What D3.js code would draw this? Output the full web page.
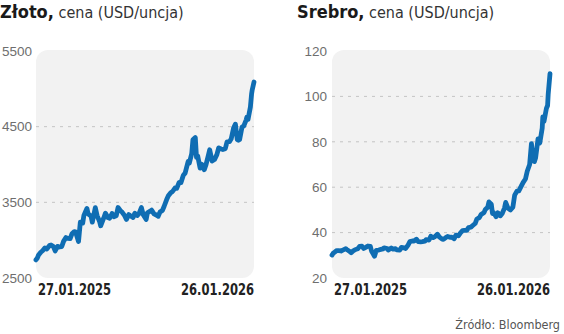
<!DOCTYPE html>
<html>
<head>
<meta charset="utf-8">
<script src="https://cdn.jsdelivr.net/npm/d3@7"></script>
<style>
  html, body { margin: 0; padding: 0; background: #fff; }
  svg { display: block; font-family: "DejaVu Sans Condensed", "DejaVu Sans", sans-serif; font-stretch: condensed; }
</style>
</head>
<body>
<svg id="chart" width="564" height="334"></svg>
<script>
// Gold, USD per ounce
const goldDates = ["2025-01-27","2025-01-29","2025-01-31","2025-02-04","2025-02-07","2025-02-11","2025-02-14","2025-02-19","2025-02-21","2025-02-25","2025-02-28","2025-03-04","2025-03-07","2025-03-11","2025-03-14","2025-03-18","2025-03-21","2025-03-25","2025-03-28","2025-04-01","2025-04-03","2025-04-08","2025-04-11","2025-04-15","2025-04-17","2025-04-22","2025-04-24","2025-04-29","2025-05-01","2025-05-06","2025-05-09","2025-05-13","2025-05-15","2025-05-20","2025-05-23","2025-05-27","2025-05-30","2025-06-03","2025-06-06","2025-06-10","2025-06-13","2025-06-17","2025-06-20","2025-06-24","2025-06-27","2025-07-01","2025-07-03","2025-07-08","2025-07-11","2025-07-15","2025-07-18","2025-07-22","2025-07-25","2025-07-30","2025-08-01","2025-08-05","2025-08-08","2025-08-12","2025-08-15","2025-08-19","2025-08-22","2025-08-26","2025-08-29","2025-09-02","2025-09-05","2025-09-09","2025-09-12","2025-09-16","2025-09-19","2025-09-23","2025-09-26","2025-09-30","2025-10-03","2025-10-08","2025-10-10","2025-10-14","2025-10-16","2025-10-20","2025-10-22","2025-10-24","2025-10-28","2025-10-31","2025-11-04","2025-11-07","2025-11-11","2025-11-13","2025-11-17","2025-11-21","2025-11-25","2025-11-28","2025-12-02","2025-12-05","2025-12-09","2025-12-12","2025-12-16","2025-12-19","2025-12-23","2025-12-26","2025-12-29","2025-12-31","2026-01-02","2026-01-06","2026-01-09","2026-01-13","2026-01-14","2026-01-16","2026-01-20","2026-01-22","2026-01-23","2026-01-26"];
const goldValues = [2740,2760,2800,2840,2860,2898,2882,2933,2936,2915,2858,2918,2910,2916,2984,3035,3023,3020,3084,3113,3110,2982,3237,3225,3327,3420,3349,3317,3238,3430,3325,3250,3190,3290,3357,3300,3290,3353,3310,3322,3432,3390,3368,3323,3274,3338,3326,3300,3355,3325,3350,3431,3337,3275,3362,3380,3397,3348,3336,3315,3371,3393,3448,3533,3586,3627,3643,3689,3685,3763,3760,3858,3886,4040,4018,4143,4326,4356,4095,4112,3952,4002,3932,4001,4128,4195,4045,4065,4130,4220,4205,4198,4208,4300,4302,4340,4485,4533,4331,4320,4330,4495,4510,4590,4625,4595,4760,4935,4985,5090];

// Silver, USD per ounce (same trading days)
const silverDates = goldDates;
const silverValues = [30.1,30.9,31.3,32.1,32.1,31.9,32.3,32.9,32.5,31.8,31.1,32.1,32.5,32.9,33.9,34.0,33.0,33.6,34.1,33.9,31.9,29.6,32.2,32.3,32.5,32.8,33.3,33.0,32.3,33.2,32.7,32.9,32.4,32.3,33.5,33.3,33.0,34.5,36.0,36.3,36.3,37.1,36.0,35.9,36.0,36.2,36.9,36.7,38.4,37.8,38.2,39.3,38.1,37.1,37.0,37.8,38.3,37.9,38.0,37.3,38.9,38.6,39.7,40.9,41.0,41.0,42.2,42.4,43.1,44.0,46.0,46.6,48.0,48.9,50.2,51.2,53.5,52.5,48.4,48.7,47.0,48.7,47.4,48.3,50.8,53.3,50.7,50.0,51.2,56.5,58.3,58.4,60.5,62.0,63.6,67.0,70.0,79.2,71.5,71.3,73.0,81.3,79.5,86.0,91.0,89.0,94.7,96.0,101.0,110.0];

const goldTicks = [2500, 3500, 4500, 5500];
const silverTicks = [20, 40, 60, 80, 100, 120];
const xLabels = ["27.01.2025", "26.01.2026"];

const parse = d3.timeParse("%Y-%m-%d");
const svg = d3.select("#chart");
const lineColor = "#0f6db3";

function panel(opts) {
  const g = svg.append("g");
  const data = opts.dates.map((d, i) => ({ date: parse(d), value: opts.values[i] }));

  const x = d3.scaleTime()
    .domain([parse("2025-01-27"), parse("2026-01-26")])
    .range([opts.x0, opts.x1]);
  const y = d3.scaleLinear()
    .domain(opts.domain)
    .range([278, 51]);

  // title
  const title = g.append("text")
    .attr("x", opts.titleX).attr("y", 18)
    .attr("fill", "#1a1a1a");
  title.append("tspan").attr("font-weight", "bold").attr("font-size", 18).text(opts.title);
  title.append("tspan").attr("font-size", 16).attr("fill", "#333").text(" cena (USD/uncja)");

  // plot background
  g.append("rect")
    .attr("x", opts.x0).attr("y", y(opts.domain[1]) - 1)
    .attr("width", opts.x1 - opts.x0)
    .attr("height", y(opts.domain[0]) - y(opts.domain[1]) + 1)
    .attr("rx", 12)
    .attr("fill", "#f2f2f2");

  // dashed gridlines on the inner ticks
  const inner = opts.ticks.slice(1, -1);
  g.selectAll(".grid").data(inner).enter().append("line")
    .attr("x1", opts.x0).attr("x2", opts.x1)
    .attr("y1", d => y(d)).attr("y2", d => y(d))
    .attr("stroke", "#c4c4c4")
    .attr("stroke-width", 1)
    .attr("stroke-dasharray", "3,5");

  // y axis labels
  const yAxis = d3.axisLeft(y).tickValues(opts.ticks).tickFormat(d3.format("d"))
    .tickSize(0).tickPadding(0);
  const ya = g.append("g").attr("transform", `translate(${opts.labelX},0)`).call(yAxis);
  ya.select(".domain").remove();
  ya.selectAll("text")
    .attr("font-family", null)
    .attr("font-size", 13.5)
    .attr("fill", "#6e6e6e");

  // x axis labels: first and last date
  g.append("text")
    .attr("x", opts.x0 + 2).attr("y", 295)
    .attr("font-weight", "bold").attr("font-size", 15).attr("fill", "#222")
    .attr("textLength", 73).attr("lengthAdjust", "spacingAndGlyphs")
    .text(xLabels[0]);
  g.append("text")
    .attr("x", opts.x1).attr("y", 295)
    .attr("text-anchor", "end")
    .attr("font-weight", "bold").attr("font-size", 15).attr("fill", "#222")
    .attr("textLength", 73).attr("lengthAdjust", "spacingAndGlyphs")
    .text(xLabels[1]);

  // price line
  const line = d3.line().x(d => x(d.date)).y(d => y(d.value));
  g.append("path")
    .datum(data)
    .attr("d", line)
    .attr("fill", "none")
    .attr("stroke", lineColor)
    .attr("stroke-width", 4.8)
    .attr("stroke-linejoin", "round")
    .attr("stroke-linecap", "round");
}

panel({ title: "Złoto,", titleX: 0, dates: goldDates, values: goldValues,
        domain: [2500, 5500], ticks: goldTicks, x0: 36, x1: 254, labelX: 32 });
panel({ title: "Srebro,", titleX: 297, dates: silverDates, values: silverValues,
        domain: [20, 120], ticks: silverTicks, x0: 332, x1: 550, labelX: 327 });

// source note
svg.append("text")
  .attr("x", 560).attr("y", 329)
  .attr("text-anchor", "end")
  .attr("font-size", 12.5).attr("fill", "#555")
  .text("Źródło: Bloomberg");
</script>
</body>
</html>
